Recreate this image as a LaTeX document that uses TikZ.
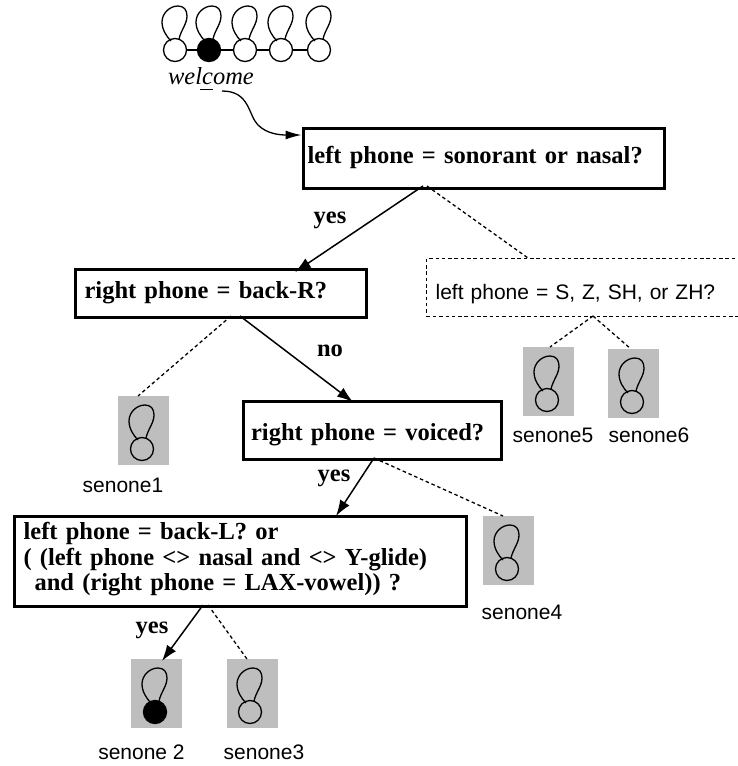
\documentclass[tikz,border=0pt]{standalone}
\usepackage{fontspec}
\setmainfont{Liberation Serif}
\setsansfont{Liberation Sans}
\usetikzlibrary{arrows.meta}
\definecolor{sgray}{HTML}{BEBEBE}
\tikzset{
  qbox/.style={draw,line width=3.2pt,inner sep=0pt,anchor=north west,align=left,font=\fontsize{24.5}{25.5}\selectfont\bfseries},
  dbox/.style={draw,line width=1.3pt,dash pattern=on 3.5pt off 2.8pt,anchor=north west,inner sep=0pt,align=left,font=\sffamily\fontsize{21}{24}\selectfont},
  sen/.style={font=\sffamily\fontsize{21}{24}\selectfont,inner sep=0pt},
  lab/.style={font=\fontsize{24.5}{26}\selectfont\bfseries,inner sep=0pt},
  arr/.style={line width=1.5pt,-{Latex[length=16pt,width=11pt]}},
  dsh/.style={line width=1.3pt,dash pattern=on 3.5pt off 2.8pt},
  gbg/.style={fill=sgray,draw=none,inner sep=0pt,minimum width=51pt,minimum height=69pt},
  ring/.style={circle,draw,line width=1.3pt,minimum size=23pt,inner sep=0pt},
  lp/.style={line width=1.3pt}
}
\newcommand{\hmmloop}[1]{%
  \draw[lp] ([shift={(-4,-9)}]#1.center) .. controls ([shift={(-8,-13)}]#1.center) and ([shift={(-13,-20)}]#1.center) .. ([shift={(-13,-28)}]#1.center)
    .. controls ([shift={(-13,-37)}]#1.center) and ([shift={(-5,-44)}]#1.center) .. ([shift={(3,-44)}]#1.center)
    .. controls ([shift={(9,-44)}]#1.center) and ([shift={(12,-40)}]#1.center) .. ([shift={(12,-34)}]#1.center)
    .. controls ([shift={(12,-26)}]#1.center) and ([shift={(6,-20)}]#1.center) .. ([shift={(4,-11)}]#1.center);}
\newcommand{\bl}[2]{\smash{\raisebox{#1}{#2}}}
\begin{document}
\begin{tikzpicture}[x=1pt,y=-1pt]
\useasboundingbox (0,0) rectangle (738,766);
% top chain
\foreach \n/\x/\f in {a/175/none,b/209/black,c/245/none,d/281/none,e/319/none}{
  \node[ring,fill=\f] (\n) at (\x,50) {};
  \hmmloop{\n}
}
\draw[lp] (a)--(b); \draw[lp] (b)--(c); \draw[lp] (c)--(d); \draw[lp] (d)--(e);
\node[inner sep=0pt,font=\fontsize{24.5}{26}\selectfont\itshape] (w) at (211,76) {welcome};
\coordinate (ula) at (200,89);
\coordinate (ulb) at (213,89);
\draw[line width=1pt] (ula)--(ulb);
\coordinate (wend) at (222,91);
% boxes
\node[qbox,minimum width=361pt,minimum height=60pt,text width=361pt] (q1) at (301.5,126.5) {\hspace{4.5pt}\bl{-5.5pt}{left phone = sonorant or nasal?}};
\node[qbox,minimum width=291pt,minimum height=48pt,text width=291pt] (q2) at (74,268) {\hspace{9pt}\bl{-5pt}{right phone = back-R?}};
\node[dbox,minimum width=330pt,minimum height=58pt,text width=330pt] (q3) at (426,258) {\hspace{9pt}\bl{-12pt}{left phone = S, Z, SH, or ZH?}};
\node[qbox,minimum width=258pt,minimum height=58pt,text width=258pt] (q4) at (241.5,399.5) {\hspace{8pt}\bl{-10.5pt}{right phone = voiced?}};
\node[qbox,minimum width=452pt,minimum height=90pt,text width=452pt] (q5) at (13,515) {\bl{-4pt}{\parbox[c]{452pt}{\hspace*{9pt}left phone = back-L? or\\\hspace*{9pt}( (left phone <> nasal and <> Y-glide)\\\hspace*{20pt}and (right phone = LAX-vowel)) ?}}};
% senones
\foreach \n/\x/\y/\f/\cx/\t/\tx/\ty in {s1/143.5/430.5/none/142/senone1/123/485,s2/156.5/693.5/black/155/senone 2/141.5/752,s3/252.5/693.5/none/250/senone3/264/752,s4/508.5/550.5/none/507/senone4/522/612,s5/548.5/381.5/none/547/senone5/553/435,s6/633.5/383.5/none/632/senone6/649/435}{
  \node[gbg] (\n) at (\x,\y) {};
  \node[ring,fill=\f] (c\n) at (\cx,\y+18.5) {};
  \hmmloop{c\n}
  \node[sen] (t\n) at (\tx,\ty) {\t};
}
% connectors
\coordinate (q1a) at (301.5,135);
\draw[line width=1.3pt,-{Latex[length=16pt,width=9pt]}] (wend) .. controls (250,91) and (248,115) .. (258,125) .. controls (267,134) and (280,135) .. (q1a);
\coordinate (q1b) at (423,186);
\coordinate (q1d) at (427,186);
\coordinate (q2t) at (295,272);
\coordinate (q2b) at (240,316);
\coordinate (q2d) at (231,316);
\coordinate (q4t) at (353,402);
\coordinate (q4b) at (374,458);
\coordinate (q5t) at (336,516);
\coordinate (q5b) at (203,605);
\coordinate (q5d) at (208,605);
\coordinate (q3t) at (528,258);
\coordinate (q3b) at (593,316);
\coordinate (s1t) at (138,396);
\coordinate (s2t) at (162,661);
\coordinate (s3t) at (247,659);
\coordinate (s4t) at (503,516);
\coordinate (s5t) at (550,347);
\coordinate (s6t) at (631,349);
\draw[arr] (q1b)--(q2t);
\draw[dsh] (q1d)--(q3t);
\draw[arr] (q2b)--(q4t);
\draw[dsh] (q2d)--(s1t);
\draw[arr] (q4b)--(q5t);
\draw[dsh] (q4b)--(s4t);
\draw[arr] (q5b)--(s2t);
\draw[dsh] (q5d)--(s3t);
\draw[dsh] (q3b)--(s5t);
\draw[dsh] (q3b)--(s6t);
% labels
\node[lab] (l1) at (330,220) {yes};
\node[lab] (l2) at (330,351) {no};
\node[lab] (l3) at (334,478) {yes};
\node[lab] (l4) at (152,630) {yes};
\end{tikzpicture}
\end{document}
